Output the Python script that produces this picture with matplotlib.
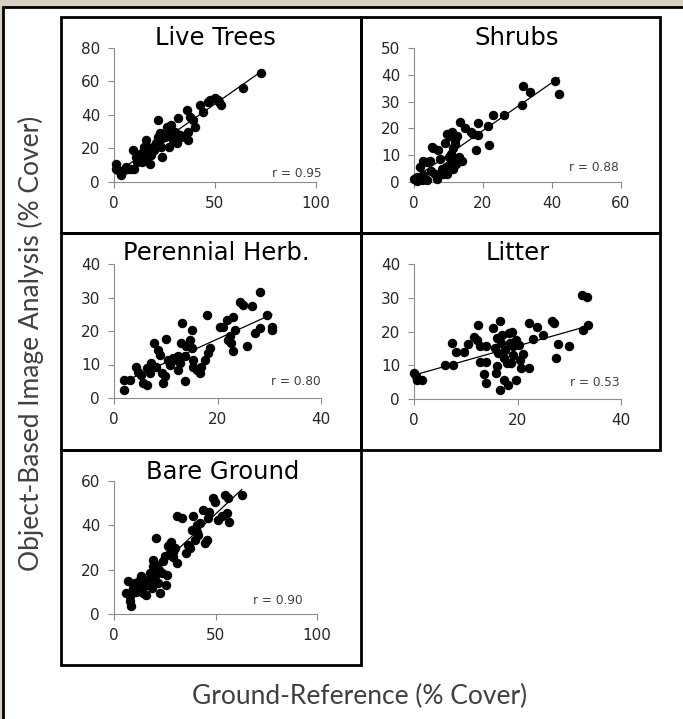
import matplotlib
matplotlib.use("Agg")
import matplotlib.pyplot as plt
from matplotlib.patches import Rectangle
import numpy as np

# ---- data (ground reference x, image analysis y) ----
trees_x = [1.2, 1.2, 2, 3.6, 5, 7, 8.6, 9.4, 10, 11, 12, 12.7, 13.5, 14.4, 15, 16, 16, 17,
           17.7, 17.7, 18.5, 19.3, 20, 21, 22, 22, 22.6, 23.5, 24, 25, 26, 27, 27, 27.6,
           28.4, 29, 30, 31, 31.7, 32.5, 36, 36.7, 36.7, 37.5, 39, 40, 42.5, 44, 46.6,
           47.4, 50, 51.6, 53, 52, 64, 73, 6, 11.5, 14, 19, 23, 26.5, 33, 15.5]
trees_y = [11, 8, 7, 4, 7, 8, 8, 19, 8, 15, 13, 17, 15, 18, 21, 25, 15, 17,
           20, 11, 16, 21, 19, 23, 27, 37, 29, 21, 15, 27, 33, 29, 21, 31,
           34, 25, 30, 23, 38, 28, 43, 30, 25, 39, 37, 33, 46, 42, 48,
           49, 50, 49, 46, 48, 56, 65, 9, 12, 12, 19, 25, 28, 27, 13]

shrub_x = [0, 0.8, 1.3, 1.7, 2.2, 2.7, 3.2, 3.7, 3.9, 4.6, 5.1, 5.6, 6.1, 6.6, 7, 7.5,
           8, 8.5, 9, 9.3, 9.5, 9.7, 10, 10.2, 10.4, 10.6, 10.9, 11.2, 11.4, 11.6, 11.9,
           12.2, 12.4, 12.9, 13.3, 13.8, 14.8, 16.4, 18, 18.5, 18.5, 21.5, 21.8, 23,
           26, 31.2, 31.7, 33.6, 40.9, 42, 1.0, 2.5, 5, 8.8, 10.8, 12, 17]
shrub_y = [1.25, 1.9, 0.6, 5.6, 0.6, 8, 1.25, 0.6, 7.5, 8, 13, 12.5, 3, 1.25, 12, 8.75,
           5, 3, 14.4, 5.6, 18, 3, 9.4, 6.25, 17, 10.6, 18.75, 5, 12.5, 8, 15.6,
           6.9, 17, 9.4, 22.5, 8, 20, 18.75, 12, 22, 17.5, 21, 13.75, 25,
           25, 28.75, 36, 33.75, 37.5, 32.75, 0.3, 2.5, 4, 4, 7, 14, 18]

herb_x = [1.9, 2, 3, 4.3, 4.7, 5.3, 5.6, 6.3, 6.3, 6.9, 7.2, 7.7, 8.2, 8.5, 8.9, 9.2,
          9.5, 9.8, 10.1, 10.5, 10.8, 11.4, 12.1, 12.4, 12.4, 12.7, 13, 13.2, 13.7,
          13.7, 14, 14.7, 15, 15, 15.3, 15.3, 16, 16.6, 16.9, 17.6, 17.9, 18.2, 18.5,
          20.5, 21.1, 21.8, 22.1, 22.4, 22.7, 23, 23, 23.4, 24.4, 25, 25.7, 26.6,
          27.3, 28.2, 28.2, 29.5, 30.5, 30.5]
herb_y = [2.3, 5.5, 5.5, 9.4, 7.9, 7, 4.5, 4, 8.9, 7.4, 10.4, 16.4, 9.4, 14.4, 12.9, 7.4,
          4.5, 6.5, 17.6, 11.4, 9.9, 11.9, 11.4, 12.4, 8.4, 10.4, 16.4, 22.3, 5,
          12.4, 15.4, 17.4, 20.3, 14.9, 11.4, 9.4, 8.4, 7.4, 9.4, 11.4, 24.8, 13.4, 14.9,
          21.3, 21.3, 23.3, 17.4, 18.4, 16.4, 24.3, 13.9, 20.3, 28.8, 27.8, 15.4, 27.5,
          19.4, 20.8, 31.5, 24.8, 21.3, 20.3]

litter_x = [0, 0.4, 0.6, 1.5, 6, 7.3, 7.6, 8.1, 9.7, 10.5, 11.6, 12.4, 12.1, 12.8, 12.8,
            13.5, 14, 14, 14, 15.3, 15.6, 15.8, 16, 16.1, 16.3, 16.6, 16.6, 16.9, 17.1,
            17.3, 17.4, 17.6, 17.9, 18.2, 18.4, 18.5, 18.7, 18.9, 19.1, 19.2, 19.7,
            19.8, 20.2, 20.5, 20.6, 21.1, 22.3, 22.3, 23, 23.7, 24.9, 26.6, 27.1, 27.4,
            27.9, 30, 32.4, 33.4, 32.6, 33.7]
litter_y = [7.7, 6.7, 5.7, 5.7, 10, 16.7, 10, 13.8, 13.8, 16.4, 18.5, 22, 17.5, 15.8, 10.9,
            7.5, 4.7, 15.6, 10.9, 21, 15, 7.7, 18, 9.7, 13.6, 23, 2.6, 16.5, 19,
            5.7, 12.1, 14.6, 10.6, 4.2, 19.5, 16.5, 10.6, 20, 15.6, 13.1, 5.7,
            17.5, 16, 11.6, 9.2, 13.4, 9.2, 22.5, 17.7, 21.2, 19, 23, 22.5, 12.1,
            16.4, 15.8, 30.8, 30.3, 20.5, 22]

bare_x = [6.1, 6.9, 7.7, 8.1, 8.6, 9.4, 10.2, 11, 11.9, 13.5, 14.3, 15, 16, 16.8, 17.6,
          18.5, 19, 19.3, 20.1, 20.6, 21, 21.7, 22.6, 23.4, 24.2, 25, 25.5, 25.9, 26.7,
          27.5, 28.3, 29.2, 30, 30.8, 30.8, 33.3, 35.7, 37.4, 38.2, 39, 39.9, 40.7,
          41.5, 42.3, 44, 44.8, 45.6, 46.5, 48.9, 49.8, 51.4, 54.7, 55.5, 56.3, 56.8,
          62.9, 12.5, 18, 22, 27, 29, 36.5, 41, 47, 53]
bare_y = [9.5, 14.7, 8, 5.7, 3.8, 11.7, 14, 9.8, 12.5, 17, 9.5, 12.5, 8.7, 15.5, 18.5,
          11.7, 21.5, 24.5, 17, 34.2, 22, 14, 9.5, 18.5, 23.7, 26.2, 13.2, 17.7, 30.5,
          27.5, 32.7, 25.7, 29.7, 23, 44, 43.2, 27.5, 29.7, 38, 44, 33.5, 37.2,
          35.7, 41, 47, 32, 33.5, 43.2, 52.2, 50.7, 42.5, 53.7, 45.5, 52.2, 41.7,
          53.7, 15, 14, 20, 31, 28, 31, 40, 46, 44]

panels = [
    ("Live Trees", trees_x, trees_y, "r = 0.95", [0, 50, 100], [0, 20, 40, 60, 80]),
    ("Shrubs", shrub_x, shrub_y, "r = 0.88", [0, 20, 40, 60], [0, 10, 20, 30, 40, 50]),
    ("Perennial Herb.", herb_x, herb_y, "r = 0.80", [0, 20, 40], [0, 10, 20, 30, 40]),
    ("Litter", litter_x, litter_y, "r = 0.53", [0, 20, 40], [0, 10, 20, 30, 40]),
    ("Bare Ground", bare_x, bare_y, "r = 0.90", [0, 50, 100], [0, 20, 40, 60]),
]

W, H = 683, 719


def fx(px):
    return px / W


def fy(py):
    return 1 - py / H


def main():
    fig = plt.figure(figsize=(W / 100, H / 100), dpi=100)
    fig.patch.set_facecolor("#d9d0c1")

    # white sheet with black frame (cut off at right / bottom)
    fig.add_artist(Rectangle((fx(3), fy(740)), fx(720), fy(7) - fy(740),
                             transform=fig.transFigure, facecolor="white",
                             edgecolor="black", linewidth=2, zorder=-10))

    # panel boxes (x0, x1, y0, y1 in pixels)
    boxes = [(61, 361, 17, 233), (361, 660, 17, 233),
             (61, 361, 233, 450), (361, 660, 233, 450),
             (61, 361, 450, 665)]
    # axes rectangles in pixels: x at 0, x at max, y at 0, y at max
    axes_px = [(114, 316, 182, 48), (414, 621, 182, 48),
               (114, 321, 398, 264), (414, 621, 399, 264),
               (114, 317, 614, 481)]
    title_px = [(215, 38), (517, 38), (216, 253), (518, 253), (223, 472)]
    rpos = [(1.03, 0.067), (0.99, 0.11), (1.0, 0.12), (0.995, 0.12), (0.93, 0.105)]

    for (bx0, bx1, by0, by1) in boxes:
        fig.add_artist(Rectangle((fx(bx0), fy(by1)), fx(bx1 - bx0), (by1 - by0) / H,
                                 transform=fig.transFigure, facecolor="none",
                                 edgecolor="black", linewidth=2, zorder=5))

    for i, (name, xs, ys, rtext, xt, yt) in enumerate(panels):
        x0, x1, y0, y1 = axes_px[i]
        ax = fig.add_axes([fx(x0), fy(y0), fx(x1 - x0), (y0 - y1) / H])
        ax.patch.set_alpha(0)
        ax.plot(xs, ys, "o", color="black", ms=5.8, clip_on=False, zorder=3)

        # least squares trend line over the data range
        m, b = np.polyfit(xs, ys, 1)
        lx = np.array([min(xs), max(xs)])
        ax.plot(lx, m * lx + b, color="black", lw=0.9, zorder=2)

        ax.set_xlim(xt[0], xt[-1])
        ax.set_ylim(yt[0], yt[-1])
        ax.set_xticks(xt)
        ax.set_yticks(yt)
        for s in ["top", "right"]:
            ax.spines[s].set_visible(False)
        for s in ["left", "bottom"]:
            ax.spines[s].set_color("#8c8c8c")
            ax.spines[s].set_linewidth(0.8)
        ax.tick_params(direction="out", length=4, width=0.8, color="#8c8c8c",
                       labelsize=11, labelcolor="#262626", pad=6)
        ax.text(rpos[i][0], rpos[i][1], rtext, transform=ax.transAxes,
                ha="right", va="center", fontsize=8.7, color="#404040")

        tx, ty = title_px[i]
        fig.text(fx(tx), fy(ty), name, ha="center", va="center",
                 fontsize=17.5, color="black", family="DejaVu Sans")

    fig.text(fx(31), fy(343), "Object-Based Image Analysis (% Cover)", rotation=90,
             ha="center", va="center", fontsize=19, color="#404040", family="Lato")
    fig.text(fx(360), fy(696), "Ground-Reference (% Cover)",
             ha="center", va="center", fontsize=19, color="#404040", family="Lato")

    fig.savefig("out.png", dpi=100, facecolor=fig.get_facecolor())


if __name__ == "__main__":
    main()
